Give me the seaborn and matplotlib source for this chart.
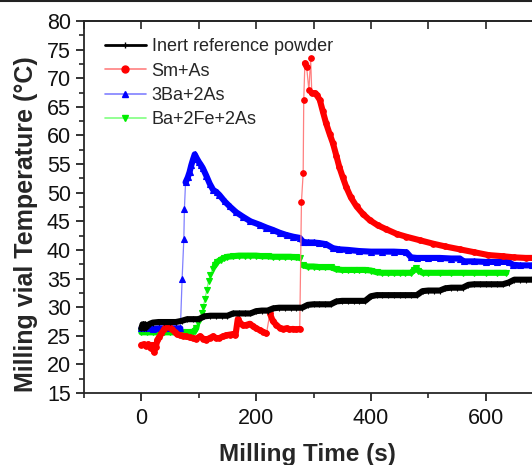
import numpy as np
import pandas as pd
import matplotlib
matplotlib.use("Agg")
import matplotlib.pyplot as plt
import seaborn as sns
from matplotlib.lines import Line2D
from matplotlib.ticker import MultipleLocator

# --- data (time in s, temperature in degC) ---
inert_time = [0, 2, 4, 6, 8, 10, 15, 20, 30, 40,
              50, 60, 70, 80, 90, 100, 110, 120, 130, 140,
              150, 160, 170, 180, 190, 200, 210, 220, 230, 240,
              250, 260, 270, 280, 290, 300, 310, 320, 330, 340,
              350, 360, 370, 380, 390, 400, 410, 420, 430, 440,
              450, 460, 470, 480, 490, 500, 510, 520, 530, 540,
              550, 560, 570, 580, 590, 600, 610, 620, 630, 640,
              650, 660, 670, 680, 690, 700]
inert_temp = [26.3, 27.0, 26.3, 27.0, 26.4, 26.8, 27.1, 27.3, 27.4, 27.4,
              27.4, 27.4, 27.6, 27.9, 27.9, 27.9, 28.4, 28.5, 28.5, 28.5,
              28.5, 28.9, 28.9, 28.9, 28.9, 29.3, 29.4, 29.4, 29.8, 29.9,
              29.9, 29.9, 29.9, 29.9, 30.4, 30.5, 30.5, 30.5, 30.5, 31.0,
              31.1, 31.1, 31.1, 31.1, 31.1, 31.9, 32.1, 32.1, 32.1, 32.1,
              32.1, 32.1, 32.1, 32.1, 32.8, 32.9, 32.9, 32.9, 33.3, 33.4,
              33.4, 33.4, 33.9, 34.0, 34.0, 34.0, 34.0, 34.0, 34.0, 34.3,
              34.8, 34.8, 34.8, 34.8, 35.0, 35.2]

smas_time = [0, 4, 8, 12, 16, 19, 22, 25, 28, 31,
             35, 40, 44, 49, 53, 58, 62, 67, 72, 78,
             84, 90, 96, 102, 108, 113, 119, 125, 130, 136,
             142, 148, 154, 160, 164, 168, 172, 177, 183, 189,
             194, 200, 206, 212, 218, 224, 229, 235, 241, 247,
             253, 258, 264, 270, 276, 279, 282, 283, 285, 288,
             292, 295, 297, 302, 306, 311, 316, 322, 328, 334,
             340, 345, 351, 357, 365, 375, 386, 398, 412, 427,
             445, 462, 485, 508, 530, 555, 580, 605, 630, 650,
             670, 690, 700]
smas_temp = [23.4, 23.5, 23.2, 23.5, 22.8, 23.4, 22.2, 23.0, 24.3, 24.8,
             25.4, 26.2, 26.7, 26.6, 26.1, 25.7, 25.3, 25.1, 25.0, 24.9,
             24.7, 24.6, 24.5, 24.9, 24.5, 24.3, 24.6, 24.9, 24.6, 24.6,
             24.9, 25.1, 25.2, 25.3, 25.1, 27.9, 27.3, 26.8, 26.9, 27.1,
             26.7, 26.3, 26.0, 25.7, 25.4, 28.9, 27.6, 26.9, 26.4, 26.2,
             26.3, 26.1, 26.2, 26.1, 26.2, 48.4, 53.4, 66.2, 72.6, 72.0,
             67.9, 73.5, 67.4, 67.4, 67.0, 66.2, 64.3, 62.1, 60.3, 58.6,
             56.4, 54.5, 52.7, 51.0, 49.2, 47.6, 46.3, 45.2, 44.3, 43.6,
             42.8, 42.3, 41.7, 41.1, 40.6, 40.1, 39.6, 39.1, 38.9, 38.7,
             38.6, 38.6, 38.6]

baas_time = [0, 10, 20, 30, 40, 50, 60, 68, 71, 74,
             75, 77, 81, 84, 87, 90, 93, 96, 100, 104,
             107, 113, 119, 125, 131, 136, 145, 154, 165, 177,
             190, 206, 218, 229, 241, 253, 265, 276, 282, 290,
             300, 310, 322, 334, 345, 360, 380, 400, 420, 440,
             462, 470, 480, 500, 520, 540, 555, 562, 580, 600,
             620, 640, 648, 660, 680, 700]
baas_temp = [26.3, 26.3, 26.2, 26.3, 26.3, 26.3, 26.3, 26.3, 34.9, 41.9,
             47.2, 51.8, 52.7, 53.6, 54.8, 55.8, 56.7, 56.1, 55.4, 54.8,
             54.3, 53.0, 51.6, 50.5, 50.1, 49.6, 48.5, 47.6, 46.6, 45.8,
             45.0, 44.4, 43.9, 43.5, 43.0, 42.6, 42.3, 42.1, 41.4, 41.3,
             41.3, 41.2, 41.0, 40.3, 40.1, 40.0, 39.8, 39.7, 39.7, 39.7,
             39.6, 38.7, 38.6, 38.6, 38.6, 38.5, 38.5, 38.0, 38.0, 37.9,
             37.9, 37.9, 37.4, 37.3, 37.3, 37.3]

bafeas_time = [0, 10, 20, 30, 40, 50, 60, 70, 80, 90,
               93, 96, 99, 102, 105, 108, 111, 114, 117, 120,
               124, 128, 132, 138, 144, 150, 160, 170, 180, 190,
               200, 210, 220, 230, 240, 250, 260, 270, 276, 282,
               290, 300, 310, 320, 330, 340, 350, 360, 370, 380,
               390, 400, 410, 420, 430, 440, 450, 460, 470, 475,
               479, 483, 490, 500, 520, 540, 560, 580, 600, 620,
               636]
bafeas_temp = [25.6, 25.6, 25.6, 25.6, 25.6, 25.6, 25.6, 25.6, 25.6, 25.7,
               25.9, 26.4, 27.2, 28.0, 29.0, 30.1, 31.5, 33.0, 34.5, 35.7,
               36.6, 37.3, 37.9, 38.3, 38.6, 38.8, 38.9, 39.0, 39.0, 39.0,
               39.0, 38.9, 38.9, 38.8, 38.8, 38.8, 38.8, 38.7, 38.6, 37.3,
               37.1, 37.1, 37.0, 37.0, 37.0, 36.6, 36.5, 36.5, 36.5, 36.5,
               36.5, 36.4, 36.1, 36.0, 36.0, 36.0, 36.0, 36.0, 36.0, 36.5,
               36.8, 36.4, 36.0, 36.0, 36.0, 36.0, 36.0, 36.0, 36.0, 36.0,
               36.0]

labels = ["Inert reference powder", "Sm+As", "3Ba+2As", "Ba+2Fe+2As"]
colors = ["#000000", "#ff0000", "#0000ff", "#00ee00"]
light = ["#555555", "#ff8080", "#8080ff", "#80ff80"]
markers = ["+", "o", "^", "v"]
jumps = [2.0, 3.0, 2.0, 0.65]

series = [(inert_time, inert_temp), (smas_time, smas_temp),
          (baas_time, baas_temp), (bafeas_time, bafeas_temp)]

sns.set_theme(style="ticks")
plt.rcParams["font.family"] = ["Liberation Sans", "DejaVu Sans"]

fig = plt.figure(figsize=(5.32, 4.65), dpi=100)
ax = fig.add_axes([84 / 532, 72 / 465, 459 / 532, 372 / 465])

# draw order: green, blue, red, black on top
for i in [3, 2, 1, 0]:
    t, T = series[i]
    df = pd.DataFrame({"time": t, "temp": T})
    # split where the reading jumps so fast that the markers stand apart
    df["seg"] = np.concatenate([[0], np.cumsum(np.abs(np.diff(T)) > jumps[i])])
    z = 2 + (3 - i) * 0.1
    sns.lineplot(data=df, x="time", y="temp", estimator=None, sort=False,
                 color=light[i], lw=0.9, marker=markers[i], markersize=4,
                 markerfacecolor=colors[i], markeredgecolor=colors[i],
                 markeredgewidth=0.8, ax=ax, zorder=z, legend=False)
    sns.lineplot(data=df, x="time", y="temp", units="seg", estimator=None,
                 sort=False, color=colors[i], lw=4.4, ax=ax, zorder=z + 0.05,
                 legend=False)

ax.set_xlim(-100, 700)
ax.set_ylim(15, 80)
ax.xaxis.set_major_locator(MultipleLocator(200))
ax.xaxis.set_minor_locator(MultipleLocator(100))
ax.yaxis.set_major_locator(MultipleLocator(5))
ax.yaxis.set_minor_locator(MultipleLocator(2.5))
ax.tick_params(which="major", direction="out", length=6, width=1.2,
               labelsize=15.5, colors="#111111")
ax.tick_params(which="minor", direction="out", length=3.5, width=1.2)
ax.tick_params(axis="x", which="major", pad=5)

top = ax.secondary_xaxis("top")
top.xaxis.set_major_locator(MultipleLocator(100))
top.tick_params(direction="in", length=6, width=1.2, labeltop=False)

for s in ax.spines.values():
    s.set_linewidth(1.3)
top.spines["top"].set_linewidth(1.3)

ax.set_xlabel("Milling Time (s)", fontsize=17.5, fontweight="bold")
ax.set_ylabel("Milling vial Temperature (\u00b0C)", fontsize=18, fontweight="bold")
ax.xaxis.set_label_coords(0.487, -0.135)
ax.yaxis.set_label_coords(-0.1, 0.455)

handles = [Line2D([], [], color=(colors[0] if i == 0 else light[i]),
                  lw=(2 if i == 0 else 1.2), marker=markers[i], markersize=5,
                  markerfacecolor=colors[i], markeredgecolor=colors[i])
           for i in range(4)]
ax.legend(handles, labels, loc="upper left", frameon=False, fontsize=13,
          bbox_to_anchor=(0.045, 0.953), borderaxespad=0, borderpad=0,
          handlelength=2.3, handletextpad=0.3, labelspacing=0.4)

fig.add_artist(Line2D([0, 1], [0.998, 0.998], transform=fig.transFigure,
                      color="#222222", lw=1.5))

fig.savefig("out.png", dpi=100)
